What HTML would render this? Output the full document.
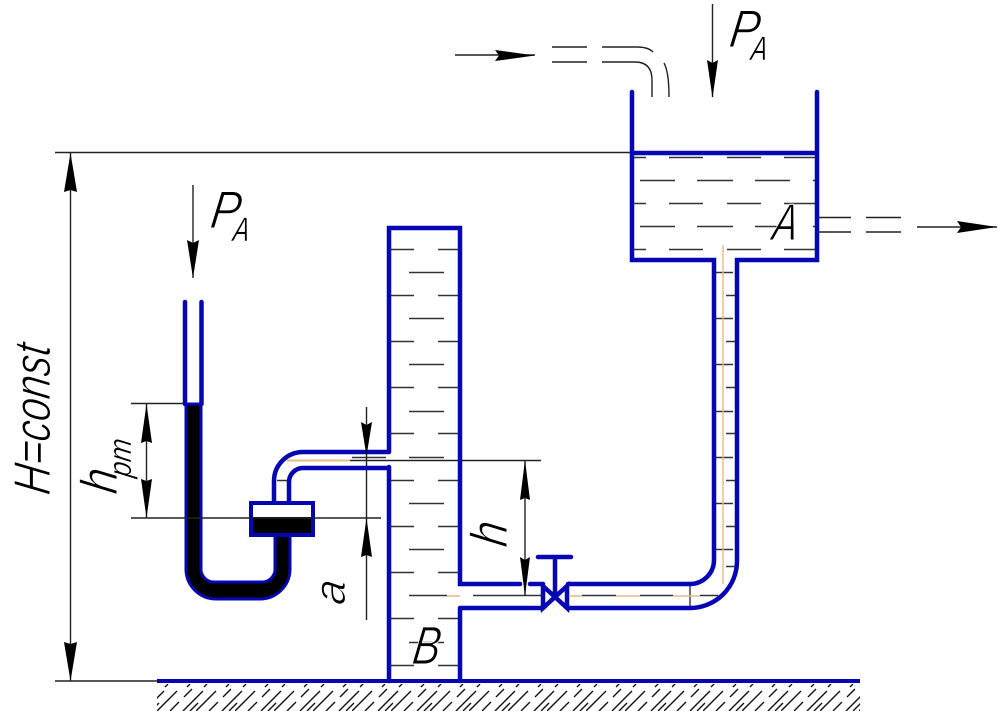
<!DOCTYPE html>
<html><head><meta charset="utf-8"><style>
html,body{margin:0;padding:0;background:#fff;width:1000px;height:711px;overflow:hidden}
svg{display:block}
.t{font-family:"Liberation Sans",sans-serif;font-style:italic;fill:#000;stroke:#fff;stroke-width:1px}
.s{stroke-width:.4px}
</style></head><body>
<svg width="1000" height="711" viewBox="0 0 1000 711" xmlns="http://www.w3.org/2000/svg">
<defs>
<pattern id="hatch" x="157" y="684" width="39" height="27" patternUnits="userSpaceOnUse">
<path d="M0 27L20 7M13 27L22 18M27 13L35 5M26 27L46 7M-13 27L7 7M-4 13L-12 21M33 27L41 19M-6 27L2 19M8 3L11 0M30 3L33 0" stroke="#111" stroke-width="1.4" fill="none"/>
</pattern>
</defs>
<rect width="1000" height="711" fill="#fff"/>
<rect x="157" y="684" width="703" height="27" fill="url(#hatch)"/>

<!-- liquid dashes -->
<g stroke="#333" stroke-width="1.4" fill="none">
<path d="M633 157.500H646M669 157.500H703M727 157.500H761M784 157.500H815"/>
<path d="M640 180.500H675M697 180.500H733M755 180.500H790M813 180.500H816"/>
<path d="M633 203.500H646M669 203.500H703M727 203.500H761M784 203.500H815"/>
<path d="M640 226.500H675M697 226.500H733M755 226.500H790M813 226.500H816"/>
<path d="M633 249.500H646M669 249.500H703M727 249.500H761M784 249.500H815"/>
<path d="M390 249.500H414M438 249.500H458M390 295.500H414M438 295.500H458M390 341.500H414M438 341.500H458M390 387.500H414M438 387.500H458M390 433.500H414M438 433.500H458M390 480.500H414M438 480.500H458M390 526.500H414M438 526.500H458M390 572.500H414M438 572.500H458M390 618.500H414M438 618.500H458M390 665.500H414M438 665.500H458"/>
<path d="M409 272.500H444M409 318.500H444M409 364.500H444M409 411.500H444M409 457.500H444M409 503.500H444M409 549.500H444M409 642.500H444"/>
<path d="M715 272.500H733M726 295.500H735M715 318.500H733M726 341.500H735M715 364.500H733M726 387.500H735M715 411.500H733M726 433.500H735M715 457.500H733M726 480.500H735M715 503.500H733M726 526.500H735M715 549.500H733M726 566.500H735"/>
<path d="M352 457.500H386M277 480.500H288M690 586V606"/>
<path d="M409 595.500H447M473 595.500H541M582 595.500H616M640 595.500H673M700 595.500H718"/>
</g>
<!-- centre lines -->
<g stroke="#e8bb80" stroke-width="1.4" fill="none">
<path d="M723 245V584M447 596H460M570 596H582M616 596H640M673 596H700M718 596H724"/>
<path d="M287 460.500H350" stroke-width="2"/>
</g>

<!-- thin dimension lines -->
<g stroke="#222" stroke-width="1.4" fill="none">
<path d="M55 152.500H632M70.500 153V681M55 681H157M131 403.500H185M146.500 404V518M366.500 407V620M350 460.500H541M525 460V596M193 185V278M712.500 4V97M455 55H535M917 227H997"/>
<path d="M552 47H587M602 47H637Q648 47 653 52M552 62H587M602 62H635Q652 62 652 80V97M664 63Q669 72 669 97M818 217.500H851M866 217.500H901M818 232H851M866 232H901"/>
</g>

<!-- blue outlines -->
<g stroke="#0606b4" stroke-width="4.500" fill="none" stroke-linecap="round" stroke-linejoin="miter">
<path d="M632 92V260H714V560A24 24 0 0 1 690 584H568M817 92V260H737V561A47 47 0 0 1 690 608H568M632 153H816"/>
<path d="M389 452V228H460V584H520M530 584H543M389 467V681M460 608V681M460 608H543"/>
<path d="M185 302V404M201.500 302V404"/>
<path d="M157 681H860" stroke-width="4" stroke-linecap="butt"/>
<path d="M388 452H303A29 29 0 0 0 274 481V503M388 468H303A14 14 0 0 0 289 482V503"/>
<path d="M543 586V608L567 586V608L543 586M555 557V596M538 557H571"/>
</g>

<!-- manometer -->
<path d="M186 404V570A30 30 0 0 0 216 599H260A30 30 0 0 0 290 570V534H275V568A13 13 0 0 1 262 582H214A13 13 0 0 1 201 568V404Z" fill="#000" stroke="#0606b4" stroke-width="3"/>
<rect x="251" y="503" width="62" height="32" fill="#000" stroke="#0606b4" stroke-width="4"/>
<rect x="253" y="505" width="58" height="12" fill="#fff"/>
<path d="M131 518H381" stroke="#222" stroke-width="1.400"/>

<!-- arrowheads -->
<g fill="#000">
<path d="M712.500 98L707 60L712.500 63L718 60Z"/>
<path d="M193 278L187 240L193 243L199 240Z"/>
<path d="M535 55.500L495 50L499 55.500L495 61Z"/>
<path d="M997 227L957 221L961 227L957 233Z"/>
<path d="M70.500 153L64 192L70.500 190L77 192Z"/>
<path d="M70.500 681L64 642L70.500 644L77 642Z"/>
<path d="M146.500 404L141 443L146.500 441L152 443Z"/>
<path d="M146.500 518L141 479L146.500 481L152 479Z"/>
<path d="M366.500 456L361 422L366.500 425L372 422Z"/>
<path d="M366.500 518L361 557L366.500 555L372 557Z"/>
<path d="M525 460L520 500L525 498L530 500Z"/>
<path d="M525 596L520 557L525 560L530 557Z"/>
</g>

<!-- labels -->
<text class="t" font-size="53" transform="translate(728 47) skewX(-8) scale(.84 1)">P</text>
<text class="t s" font-size="34" transform="translate(750 60) skewX(-8) scale(.72 1)">A</text>
<text class="t" font-size="53" transform="translate(209 228) skewX(-8) scale(.84 1)">P</text>
<text class="t s" font-size="34" transform="translate(232 241) skewX(-8) scale(.72 1)">A</text>
<text class="t" font-size="52" transform="translate(771 240) skewX(-8) scale(.72 1)">A</text>
<text class="t" font-size="54" transform="translate(411 664) skewX(-8) scale(.76 1)">B</text>
<text class="t" font-size="52" transform="translate(507 548) rotate(-90) skewX(-8) scale(.85 1)">h</text>
<text class="t" font-size="44" transform="translate(345 606) rotate(-90) skewX(-8)">a</text>
<text class="t" font-size="52" transform="translate(50 496) rotate(-90) skewX(-8)" textLength="150" lengthAdjust="spacingAndGlyphs">H=const</text>
<text class="t" font-size="52" transform="translate(117 495) rotate(-90) skewX(-8) scale(.85 1)">h</text>
<text class="t s" font-size="32" transform="translate(131 478) rotate(-90) skewX(-8)" textLength="38" lengthAdjust="spacingAndGlyphs">pm</text>
</svg>
</body></html>
